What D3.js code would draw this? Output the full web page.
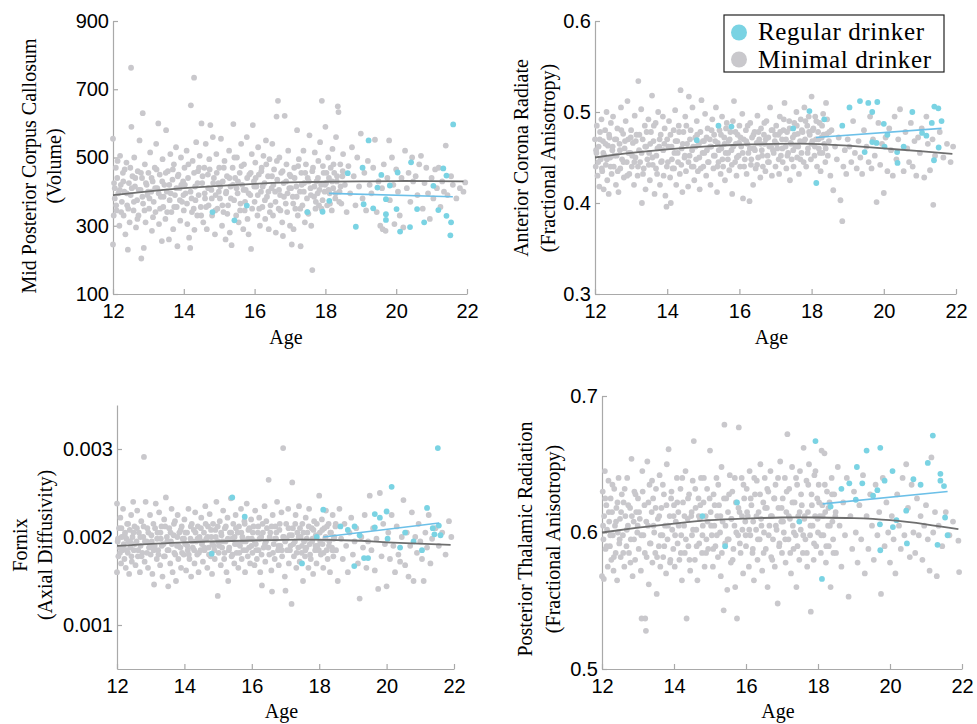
<!DOCTYPE html>
<html>
<head>
<meta charset="utf-8">
<script src="https://cdn.jsdelivr.net/npm/d3@7"></script>
<style>
  body { margin: 0; background: #fff; }
  svg { display: block; }
  .tick text { font-family: "Liberation Sans", Arial, Helvetica, sans-serif; font-size: 20px; fill: #000; }
  .lab { font-family: "Liberation Serif", "Times New Roman", serif; fill: #000; }
</style>
</head>
<body>
<svg id="chart" width="977" height="724"></svg>
<script>
// ---- data ----
var xTicks = [12, 14, 16, 18, 20, 22];

// Mid posterior corpus callosum (volume)
var ccTicks = [100, 300, 500, 700, 900];
var ccMinimal = [[12.0,555],[12.0,245],[12.02,330],[12.05,410],[12.05,380],[12.08,470],[12.1,345],[12.12,440],[12.15,395],[12.18,300],[12.2,505],[12.22,420],[12.25,370],[12.28,455],[12.3,330],[12.32,400],[12.35,275],[12.38,485],[12.4,360],[12.42,230],[12.45,425],[12.47,310],[12.5,390],[12.51,763],[12.52,590],[12.55,445],[12.58,345],[12.6,500],[12.62,415],[12.65,295],
[12.68,375],[12.7,460],[12.72,330],[12.75,550],[12.78,405],[12.8,204],[12.82,440],[12.84,630],[12.85,365],[12.87,235],[12.9,480],[12.92,310],[12.95,420],[12.97,390],
[13.0,455],[13.02,350],[13.05,515],[13.08,400],[13.1,285],[13.12,430],[13.15,370],[13.18,470],[13.2,340],[13.22,540],[13.25,410],[13.28,600],[13.3,305],[13.32,450],[13.35,385],[13.38,255],[13.4,495],[13.42,355],[13.45,420],[13.48,320],
[13.5,580],[13.52,400],[13.55,460],[13.58,260],[13.6,375],[13.62,510],[13.65,340],[13.68,435],[13.7,290],[13.72,480],[13.75,390],[13.78,530],[13.8,355],[13.82,240],[13.85,450],[13.88,410],[13.9,315],[13.92,500],[13.95,370],[13.98,430],
[14.0,345],[14.02,470],[14.05,395],[14.08,520],[14.1,305],[14.12,440],[14.15,265],[14.18,235],[14.2,653],[14.22,380],[14.25,490],[14.28,350],[14.29,734],[14.3,288],[14.32,415],[14.35,545],[14.38,330],[14.4,460],[14.42,390],[14.45,505],[14.48,355],
[14.5,600],[14.52,425],[14.55,310],[14.58,470],[14.6,380],[14.62,540],[14.65,290],[14.68,450],[14.7,360],[14.72,495],[14.75,595],[14.78,405],[14.8,330],[14.82,560],[14.85,440],[14.88,275],[14.9,390],[14.92,510],[14.95,350],[14.98,425],
[15.0,470],[15.02,380],[15.05,555],[15.08,300],[15.1,430],[15.12,340],[15.15,490],[15.18,260],[15.2,400],[15.22,445],[15.25,360],[15.28,520],[15.3,280],[15.32,415],[15.35,243],[15.38,470],[15.4,598],[15.42,375],[15.45,440],[15.48,330],
[15.5,500],[15.52,395],[15.55,310],[15.58,455],[15.6,365],[15.62,540],[15.65,420],[15.68,290],[15.7,480],[15.72,345],[15.75,405],[15.78,560],[15.8,320],[15.83,275],[15.85,450],[15.88,390],[15.9,232],[15.92,510],[15.95,595],[15.98,430],
[16.0,370],[16.02,485],[16.05,415],[16.08,330],[16.1,530],[16.12,450],[16.15,300],[16.18,400],[16.2,470],[16.22,355],[16.25,505],[16.28,425],[16.3,320],[16.32,550],[16.35,385],[16.38,445],[16.4,290],[16.42,495],[16.45,360],[16.48,410],
[16.5,540],[16.52,330],[16.55,465],[16.58,400],[16.6,280],[16.62,620],[16.64,435],[16.66,666],[16.68,350],[16.7,500],[16.72,390],[16.75,455],[16.78,310],[16.8,270],[16.82,425],[16.85,622],[16.88,365],[16.9,480],[16.92,340],[16.95,520],[16.98,410],
[17.0,300],[17.02,445],[17.05,245],[17.08,385],[17.1,290],[17.12,470],[17.15,350],[17.18,415],[17.2,580],[17.22,330],[17.25,495],[17.28,400],[17.3,240],[17.32,455],[17.35,360],[17.38,520],[17.4,425],[17.42,310],[17.45,480],[17.48,380],
[17.5,440],[17.52,335],[17.55,565],[17.58,410],[17.6,300],[17.63,170],[17.65,470],[17.68,385],[17.7,515],[17.72,350],[17.75,430],[17.78,395],[17.8,490],[17.82,360],[17.85,545],[17.88,420],[17.9,666],[17.92,375],[17.95,455],[17.98,400],
[18.0,590],[18.02,425],[18.05,360],[18.08,500],[18.1,440],[18.12,395],[18.15,470],[18.18,345],[18.2,525],[18.22,410],[18.25,455],[18.28,380],[18.3,560],[18.32,430],[18.35,650],[18.37,633],[18.4,400],[18.42,480],[18.45,365],[18.48,445],
[18.5,510],[18.55,420],[18.6,340],[18.65,475],[18.7,395],[18.75,530],[18.8,445],[18.85,360],[18.9,500],[18.95,415],[19.0,570],
[19.05,380],[19.1,455],[19.15,345],[19.2,490],[19.25,420],[19.3,395],[19.35,470],[19.4,552],[19.45,340],[19.5,430],
[19.55,300],[19.6,410],[19.62,290],[19.65,480],[19.7,285],[19.75,440],[19.8,550],[19.82,375],[19.88,500],[19.92,420],[19.95,305],
[20.0,465],[20.05,400],[20.1,330],[20.15,440],[20.2,295],[20.25,520],[20.3,410],[20.35,455],[20.4,370],[20.45,500],[20.48,430],
[20.55,445],[20.6,390],[20.65,480],[20.7,505],[20.75,350],[20.8,425],[20.85,470],[20.9,395],[20.95,320],
[21.0,440],[21.05,380],[21.1,465],[21.15,410],[21.2,470],[21.25,355],[21.3,430],[21.35,400],[21.4,535],[21.45,390],
[21.55,445],[21.6,420],[21.7,380],[21.8,410],[21.9,400],[21.95,427]];
var ccMinimalCore = [[12.03,425],[12.09,360],[12.13,490],[12.19,405],[12.23,340],[12.29,430],[12.33,465],[12.39,395],[12.43,350],[12.49,470],[12.53,410],[12.59,370],[12.63,440],[12.69,320],[12.73,405],[12.79,455],[12.83,385],[12.89,345],[12.93,425],[12.99,400],
[13.03,380],[13.09,440],[13.13,325],[13.19,410],[13.23,465],[13.29,395],[13.33,350],[13.39,430],[13.43,385],[13.49,455],[13.53,340],[13.59,420],[13.63,395],[13.69,465],[13.73,355],[13.79,410],[13.83,445],[13.89,375],[13.93,420],[13.99,390],
[14.03,420],[14.09,365],[14.13,480],[14.19,400],[14.23,340],[14.29,455],[14.33,375],[14.39,425],[14.43,470],[14.49,330],[14.53,445],[14.59,395],[14.63,355],[14.69,410],[14.73,465],[14.79,380],[14.83,425],[14.89,345],[14.93,455],[14.99,400],
[15.03,415],[15.09,360],[15.13,470],[15.19,395],[15.23,335],[15.29,440],[15.33,380],[15.39,420],[15.43,500],[15.49,410],[15.53,430],[15.59,345],[15.63,475],[15.69,405],[15.73,370],[15.79,440],[15.83,395],[15.89,455],[15.93,350],[15.99,415],
[16.03,440],[16.09,390],[16.13,350],[16.19,460],[16.23,415],[16.29,375],[16.33,480],[16.39,400],[16.43,340],[16.49,445],[16.53,420],[16.59,370],[16.63,490],[16.69,405],[16.73,345],[16.79,460],[16.83,385],[16.89,430],[16.93,395],[16.99,450],
[17.03,410],[17.09,365],[17.13,440],[17.19,385],[17.23,475],[17.29,350],[17.33,420],[17.39,400],[17.43,455],[17.49,340],[17.53,430],[17.59,390],[17.63,460],[17.69,415],[17.73,370],[17.79,440],[17.83,405],[17.89,350],[17.93,475],[17.99,420],
[18.03,455],[18.09,405],[18.13,365],[18.19,430],[18.23,480],[18.29,395],[18.33,445],[18.39,370],[18.43,415],[18.49,460]];
var ccRegular = [[14.81,340],[15.43,316],[15.78,359],[17.49,340],[17.92,341],[18.11,373],[18.63,454],[18.86,297],[19.05,470],[19.08,363],[19.22,550],[19.35,351],[19.47,412],[19.58,449],[19.71,317],[19.71,334],[19.71,378],[19.82,418],[20.01,349],[20.04,456],[20.11,283],[20.39,296],[20.42,486],[20.59,349],[20.79,310],[21.05,417],[21.19,346],[21.33,468],[21.42,447],[21.42,329],[21.53,272],[21.55,310],[21.61,597]];
var ccFitMinimal = [[12,390],[13,401],[14,410],[15,417],[16,423],[17,427],[18,429],[19,430],[20,431],[21,431],[21.9,430]];
var ccFitRegular = [[18.1,395],[21.6,385]];

// Anterior corona radiate (FA)
var acrTicks = [0.3, 0.4, 0.5, 0.6];
var acrMinimal = [[12.0,0.470],[12.02,0.440],[12.04,0.455],[12.05,0.485],[12.07,0.430],[12.1,0.462],[12.12,0.418],[12.14,0.478],[12.16,0.448],[12.18,0.492],[12.2,0.435],[12.22,0.468],[12.24,0.415],[12.26,0.452],[12.28,0.480],[12.3,0.442],[12.32,0.500],[12.34,0.425],[12.36,0.463],[12.38,0.410],[12.4,0.472],[12.42,0.450],[12.44,0.488],[12.46,0.432],[12.48,0.458],
[12.5,0.495],[12.52,0.440],[12.55,0.470],[12.58,0.420],[12.6,0.452],[12.62,0.482],[12.65,0.412],[12.68,0.465],[12.7,0.438],[12.72,0.505],[12.75,0.448],[12.78,0.476],[12.8,0.428],[12.82,0.460],[12.85,0.490],[12.88,0.445],[12.9,0.512],[12.92,0.470],[12.95,0.432],[12.98,0.455],
[13.0,0.480],[13.02,0.440],[13.05,0.466],[13.08,0.420],[13.1,0.496],[13.12,0.450],[13.15,0.475],[13.18,0.430],[13.2,0.534],[13.22,0.458],[13.25,0.445],[13.28,0.503],[13.3,0.400],[13.32,0.470],[13.35,0.438],[13.38,0.485],[13.4,0.415],[13.42,0.462],[13.45,0.448],[13.48,0.492],
[13.5,0.455],[13.52,0.425],[13.55,0.478],[13.58,0.518],[13.6,0.442],[13.62,0.468],[13.65,0.410],[13.68,0.488],[13.7,0.452],[13.72,0.432],[13.75,0.500],[13.78,0.462],[13.8,0.420],[13.82,0.475],[13.85,0.446],[13.88,0.495],[13.9,0.430],[13.92,0.465],[13.95,0.408],[13.98,0.396],
[14.0,0.470],[14.02,0.445],[14.05,0.490],[14.08,0.428],[14.1,0.400],[14.12,0.462],[14.15,0.438],[14.18,0.480],[14.2,0.455],[14.22,0.502],[14.25,0.420],[14.28,0.468],[14.3,0.445],[14.32,0.485],[14.35,0.432],[14.37,0.524],[14.4,0.460],[14.42,0.412],[14.45,0.478],[14.48,0.450],
[14.5,0.495],[14.52,0.435],[14.55,0.465],[14.58,0.418],[14.6,0.517],[14.62,0.452],[14.65,0.480],[14.68,0.440],[14.7,0.505],[14.72,0.462],[14.75,0.425],[14.78,0.472],[14.8,0.448],[14.82,0.490],[14.85,0.435],[14.88,0.465],[14.9,0.415],[14.92,0.478],[14.95,0.513],[14.98,0.455],
[15.0,0.440],[15.02,0.468],[15.05,0.498],[15.08,0.430],[15.1,0.458],[15.12,0.482],[15.15,0.445],[15.18,0.470],[15.2,0.420],[15.22,0.462],[15.25,0.492],[15.28,0.438],[15.3,0.475],[15.32,0.452],[15.35,0.505],[15.38,0.412],[15.4,0.466],[15.42,0.445],[15.45,0.480],[15.48,0.432],
[15.5,0.460],[15.52,0.495],[15.55,0.440],[15.58,0.472],[15.6,0.425],[15.62,0.455],[15.65,0.488],[15.68,0.448],[15.7,0.468],[15.72,0.436],[15.75,0.478],[15.78,0.458],[15.8,0.410],[15.82,0.490],[15.85,0.512],[15.88,0.445],[15.9,0.465],[15.92,0.430],[15.95,0.475],[15.98,0.452],
[16.0,0.485],[16.02,0.440],[16.05,0.462],[16.08,0.498],[16.1,0.405],[16.12,0.470],[16.15,0.448],[16.18,0.480],[16.2,0.432],[16.22,0.465],[16.25,0.455],[16.28,0.402],[16.3,0.488],[16.32,0.442],[16.35,0.472],[16.38,0.420],[16.4,0.460],[16.42,0.478],[16.45,0.438],[16.48,0.466],
[16.5,0.496],[16.52,0.450],[16.55,0.470],[16.58,0.428],[16.6,0.482],[16.62,0.458],[16.65,0.440],[16.68,0.475],[16.7,0.465],[16.72,0.435],[16.75,0.490],[16.78,0.452],[16.8,0.472],[16.82,0.445],[16.85,0.505],[16.88,0.462],[16.9,0.430],[16.92,0.480],[16.95,0.455],[16.98,0.468],
[17.0,0.440],[17.02,0.485],[17.05,0.460],[17.08,0.475],[17.1,0.432],[17.12,0.495],[17.15,0.452],[17.18,0.470],[17.2,0.445],[17.22,0.480],[17.25,0.510],[17.28,0.462],[17.3,0.438],[17.32,0.478],[17.35,0.455],[17.38,0.490],[17.4,0.425],[17.42,0.466],[17.45,0.448],[17.48,0.472],
[17.5,0.440],[17.52,0.488],[17.55,0.462],[17.58,0.500],[17.6,0.450],[17.62,0.476],[17.65,0.432],[17.68,0.468],[17.7,0.492],[17.72,0.455],[17.75,0.478],[17.78,0.445],[17.8,0.505],[17.82,0.470],[17.85,0.440],[17.88,0.485],[17.9,0.460],[17.92,0.495],[17.95,0.475],[17.98,0.448],
[18.0,0.517],[18.02,0.468],[18.05,0.482],[18.08,0.452],[18.1,0.495],[18.12,0.470],[18.15,0.440],[18.18,0.478],[18.2,0.460],[18.22,0.488],[18.25,0.435],[18.28,0.472],[18.3,0.455],[18.32,0.498],[18.35,0.465],[18.38,0.445],[18.4,0.510],[18.42,0.476],[18.45,0.452],[18.48,0.468],
[18.52,0.430],[18.55,0.480],[18.6,0.414],[18.65,0.462],[18.7,0.448],[18.75,0.472],[18.8,0.403],[18.85,0.380],[18.88,0.440],[18.92,0.458],[18.96,0.432],
[19.0,0.470],[19.05,0.462],[19.1,0.445],[19.15,0.490],[19.2,0.455],[19.25,0.438],[19.3,0.468],[19.35,0.450],[19.4,0.432],[19.45,0.480],
[19.52,0.462],[19.58,0.445],[19.62,0.495],[19.66,0.438],[19.7,0.470],[19.75,0.452],[19.8,0.401],[19.85,0.488],[19.9,0.442],[19.95,0.465],
[20.0,0.411],[20.05,0.472],[20.1,0.435],[20.15,0.482],[20.2,0.458],[20.25,0.430],[20.3,0.495],[20.35,0.448],[20.4,0.470],[20.45,0.503],
[20.55,0.435],[20.6,0.478],[20.65,0.460],[20.7,0.445],[20.75,0.488],[20.8,0.440],[20.85,0.468],[20.9,0.430],[20.95,0.472],
[21.0,0.455],[21.05,0.482],[21.12,0.428],[21.18,0.495],[21.22,0.465],[21.28,0.436],[21.35,0.470],[21.37,0.398],[21.42,0.452],
[21.55,0.478],[21.65,0.450],[21.75,0.465],[21.85,0.445],[21.92,0.462]];
var acrMinimalCore = [[12.03,0.458],[12.09,0.445],[12.13,0.470],[12.19,0.438],[12.23,0.455],[12.29,0.465],[12.33,0.448],[12.39,0.475],[12.43,0.440],[12.49,0.462],[12.53,0.452],[12.59,0.470],[12.63,0.435],[12.69,0.458],[12.73,0.480],[12.79,0.445],[12.83,0.468],[12.89,0.430],[12.93,0.455],[12.99,0.472],
[13.03,0.452],[13.09,0.445],[13.13,0.468],[13.19,0.440],[13.23,0.475],[13.29,0.455],[13.33,0.432],[13.39,0.462],[13.43,0.478],[13.49,0.442],[13.53,0.465],[13.59,0.450],[13.63,0.485],[13.69,0.438],[13.73,0.460],[13.79,0.470],[13.83,0.445],[13.89,0.458],[13.93,0.482],[13.99,0.440],
[14.03,0.462],[14.09,0.475],[14.13,0.448],[14.19,0.438],[14.23,0.468],[14.29,0.455],[14.33,0.478],[14.39,0.442],[14.43,0.465],[14.49,0.452],[14.53,0.485],[14.59,0.445],[14.63,0.470],[14.69,0.458],[14.73,0.440],[14.79,0.462],[14.83,0.475],[14.89,0.450],[14.93,0.438],[14.99,0.468],
[15.03,0.455],[15.09,0.472],[15.13,0.445],[15.19,0.462],[15.23,0.480],[15.29,0.452],[15.33,0.468],[15.39,0.440],[15.43,0.458],[15.49,0.475],[15.53,0.448],[15.59,0.465],[15.63,0.482],[15.69,0.455],[15.73,0.470],[15.79,0.442],[15.83,0.462],[15.89,0.478],[15.93,0.450],[15.99,0.466],
[16.03,0.472],[16.09,0.455],[16.13,0.440],[16.19,0.468],[16.23,0.485],[16.29,0.460],[16.33,0.448],[16.39,0.475],[16.43,0.458],[16.49,0.442],[16.53,0.478],[16.59,0.465],[16.63,0.452],[16.69,0.488],[16.73,0.470],[16.79,0.445],[16.83,0.462],[16.89,0.480],[16.93,0.458],[16.99,0.475],
[17.03,0.465],[17.09,0.448],[17.13,0.478],[17.19,0.460],[17.23,0.492],[17.29,0.470],[17.33,0.452],[17.39,0.482],[17.43,0.465],[17.49,0.458],[17.53,0.475],[17.59,0.485],[17.63,0.462],[17.69,0.448],[17.73,0.480],[17.79,0.468],[17.83,0.490],[17.89,0.455],[17.93,0.478],[17.99,0.465],
[18.03,0.480],[18.09,0.462],[18.13,0.490],[18.19,0.470],[18.23,0.455],[18.29,0.485],[18.33,0.475],[18.39,0.460],[18.43,0.492],[18.49,0.478]];
var acrRegular = [[14.82,0.469],[15.42,0.485],[15.78,0.484],[17.49,0.482],[17.94,0.501],[18.13,0.422],[18.35,0.492],[18.85,0.485],[19.05,0.505],[19.34,0.512],[19.47,0.456],[19.57,0.510],[19.68,0.500],[19.68,0.467],[19.8,0.466],[19.82,0.511],[20.0,0.487],[20.02,0.462],[20.1,0.475],[20.37,0.456],[20.38,0.444],[20.55,0.462],[20.79,0.500],[21.06,0.477],[21.18,0.474],[21.33,0.488],[21.39,0.447],[21.4,0.506],[21.51,0.504],[21.52,0.461],[21.6,0.490]];
var acrFitMinimal = [[12,0.450],[13,0.455],[14,0.459],[15,0.462],[16,0.464],[17,0.465],[18,0.465],[19,0.463],[20,0.460],[21,0.457],[21.9,0.454]];
var acrFitRegular = [[18.12,0.472],[21.6,0.482]];

// Fornix (axial diffusivity)
var fxTicks = [0.001, 0.002, 0.003];
var fxMinimal = [[12.0,0.00238],[12.0,0.00160],[12.02,0.00195],[12.04,0.00178],[12.06,0.00210],[12.08,0.00188],[12.1,0.00222],[12.12,0.00170],[12.14,0.00200],[12.16,0.00185],[12.18,0.00232],[12.2,0.00192],[12.22,0.00175],[12.24,0.00205],[12.26,0.00165],[12.28,0.00198],[12.3,0.00215],[12.32,0.00182],[12.34,0.00195],[12.36,0.00158],[12.38,0.00208],[12.4,0.00188],[12.42,0.00225],[12.44,0.00172],[12.46,0.00200],[12.48,0.00240],
[12.5,0.00185],[12.52,0.00212],[12.55,0.00168],[12.58,0.00195],[12.6,0.00230],[12.62,0.00178],[12.65,0.00205],[12.68,0.00160],[12.7,0.00190],[12.72,0.00218],[12.75,0.00182],[12.78,0.00200],[12.8,0.00291],[12.82,0.00172],[12.85,0.00240],[12.88,0.00195],[12.9,0.00210],[12.92,0.00165],[12.95,0.00188],[12.98,0.00225],
[13.0,0.00180],[13.02,0.00202],[13.05,0.00158],[13.08,0.00215],[13.1,0.00146],[13.12,0.00190],[13.15,0.00238],[13.18,0.00175],[13.2,0.00205],[13.22,0.00185],[13.25,0.00228],[13.28,0.00168],[13.3,0.00198],[13.32,0.00212],[13.35,0.00155],[13.38,0.00192],[13.4,0.00220],[13.42,0.00178],[13.45,0.00245],[13.48,0.00200],
[13.5,0.00185],[13.52,0.00144],[13.55,0.00210],[13.58,0.00170],[13.6,0.00195],[13.62,0.00232],[13.65,0.00160],[13.68,0.00202],[13.7,0.00182],[13.72,0.00218],[13.75,0.00150],[13.78,0.00190],[13.8,0.00225],[13.82,0.00175],[13.85,0.00205],[13.88,0.00188],[13.9,0.00165],[13.92,0.00212],[13.95,0.00198],[13.98,0.00180],
[14.0,0.00220],[14.02,0.00192],[14.05,0.00162],[14.08,0.00205],[14.1,0.00185],[14.12,0.00232],[14.15,0.00175],[14.18,0.00198],[14.2,0.00155],[14.22,0.00215],[14.25,0.00188],[14.28,0.00208],[14.3,0.00170],[14.32,0.00228],[14.35,0.00195],[14.38,0.00180],[14.4,0.00212],[14.42,0.00160],[14.45,0.00200],[14.48,0.00185],
[14.5,0.00222],[14.52,0.00192],[14.55,0.00172],[14.58,0.00205],[14.6,0.00185],[14.62,0.00235],[14.65,0.00198],[14.68,0.00165],[14.7,0.00212],[14.72,0.00188],[14.75,0.00226],[14.78,0.00178],[14.8,0.00200],[14.82,0.00158],[14.85,0.00215],[14.88,0.00190],[14.9,0.00175],[14.92,0.00208],[14.95,0.00240],[14.99,0.00133],
[15.0,0.00195],[15.02,0.00182],[15.05,0.00218],[15.08,0.00168],[15.1,0.00202],[15.12,0.00188],[15.15,0.00230],[15.18,0.00175],[15.2,0.00210],[15.22,0.00195],[15.25,0.00160],[15.28,0.00222],[15.3,0.00150],[15.32,0.00185],[15.35,0.00205],[15.38,0.00244],[15.4,0.00178],[15.42,0.00198],[15.45,0.00215],[15.48,0.00170],
[15.5,0.00192],[15.52,0.00225],[15.55,0.00182],[15.58,0.00205],[15.6,0.00165],[15.62,0.00212],[15.65,0.00190],[15.68,0.00232],[15.7,0.00175],[15.72,0.00200],[15.75,0.00185],[15.78,0.00218],[15.8,0.00160],[15.82,0.00195],[15.85,0.00238],[15.88,0.00178],[15.9,0.00208],[15.92,0.00188],[15.95,0.00170],[15.98,0.00220],
[16.0,0.00198],[16.02,0.00182],[16.05,0.00212],[16.08,0.00168],[16.1,0.00230],[16.12,0.00192],[16.15,0.00175],[16.18,0.00205],[16.2,0.00185],[16.22,0.00222],[16.25,0.00160],[16.28,0.00200],[16.3,0.00145],[16.32,0.00215],[16.35,0.00188],[16.38,0.00235],[16.4,0.00172],[16.42,0.00195],[16.45,0.00210],[16.5,0.00265],
[16.52,0.00180],[16.55,0.00205],[16.58,0.00162],[16.6,0.00138],[16.62,0.00225],[16.65,0.00192],[16.68,0.00175],[16.7,0.00212],[16.72,0.00198],[16.75,0.00240],[16.78,0.00185],[16.8,0.00168],[16.82,0.00208],[16.85,0.00190],[16.88,0.00228],[16.9,0.00178],[16.93,0.00301],[16.95,0.00200],[16.98,0.00155],[17.0,0.00139],
[17.02,0.00215],[17.05,0.00185],[17.08,0.00232],[17.1,0.00170],[17.12,0.00202],[17.15,0.00190],[17.18,0.00124],[17.2,0.00262],[17.22,0.00210],[17.25,0.00178],[17.28,0.00195],[17.3,0.00225],[17.32,0.00165],[17.35,0.00205],[17.38,0.00188],[17.4,0.00235],[17.42,0.00172],[17.45,0.00200],[17.48,0.00182],
[17.5,0.00215],[17.52,0.00150],[17.55,0.00195],[17.58,0.00178],[17.6,0.00222],[17.62,0.00188],[17.65,0.00205],[17.68,0.00165],[17.7,0.00232],[17.72,0.00192],[17.75,0.00175],[17.78,0.00210],[17.8,0.00198],[17.82,0.00158],[17.85,0.00218],[17.88,0.00185],[17.9,0.00202],[17.92,0.00170],[17.95,0.00190],[18.0,0.00247],
[18.02,0.00205],[18.05,0.00180],[18.08,0.00220],[18.1,0.00192],[18.12,0.00165],[18.15,0.00210],[18.18,0.00198],[18.2,0.00230],[18.22,0.00185],[18.25,0.00175],[18.28,0.00215],[18.3,0.00195],[18.32,0.00160],[18.35,0.00205],[18.38,0.00188],[18.4,0.00225],[18.42,0.00178],[18.45,0.00200],[18.48,0.00212],
[18.5,0.00185],[18.55,0.00150],[18.6,0.00232],[18.65,0.00198],[18.7,0.00175],[18.75,0.00215],[18.8,0.00190],[18.85,0.00160],[18.9,0.00205],[18.95,0.00222],
[19.0,0.00180],[19.05,0.00195],[19.1,0.00210],[19.15,0.00170],[19.2,0.00130],[19.25,0.00200],[19.3,0.00188],[19.35,0.00225],[19.4,0.00165],[19.45,0.00195],
[19.5,0.00247],[19.55,0.00185],[19.6,0.00210],[19.65,0.00162],[19.7,0.00198],[19.75,0.00141],[19.8,0.00250],[19.85,0.00178],[19.9,0.00215],[19.95,0.00192],
[20.0,0.00144],[20.05,0.00205],[20.1,0.00175],[20.15,0.00225],[20.2,0.00190],[20.25,0.00160],[20.3,0.00212],[20.35,0.00180],[20.4,0.00172],[20.45,0.00200],
[20.5,0.00242],[20.55,0.00168],[20.6,0.00205],[20.65,0.00155],[20.7,0.00190],[20.75,0.00228],[20.8,0.00150],[20.85,0.00200],[20.9,0.00182],[20.95,0.00215],
[21.0,0.00195],[21.05,0.00175],[21.1,0.00150],[21.15,0.00205],[21.2,0.00188],[21.25,0.00225],[21.3,0.00170],[21.35,0.00198],[21.45,0.00210],
[21.55,0.00190],[21.65,0.00205],[21.75,0.00180],[21.85,0.00218],[21.92,0.00200]];
var fxMinimalCore = [[12.03,0.00198],[12.09,0.00182],[12.13,0.00210],[12.19,0.00190],[12.23,0.00202],[12.29,0.00185],[12.33,0.00215],[12.39,0.00195],[12.43,0.00178],[12.49,0.00205],[12.53,0.00192],[12.59,0.00210],[12.63,0.00185],[12.69,0.00200],[12.73,0.00178],[12.79,0.00212],[12.83,0.00195],[12.89,0.00182],[12.93,0.00205],[12.99,0.00190],
[13.03,0.00195],[13.09,0.00185],[13.13,0.00210],[13.19,0.00198],[13.23,0.00180],[13.29,0.00205],[13.33,0.00190],[13.39,0.00178],[13.43,0.00212],[13.49,0.00195],[13.53,0.00185],[13.59,0.00205],[13.63,0.00192],[13.69,0.00215],[13.73,0.00180],[13.79,0.00200],[13.83,0.00190],[13.89,0.00208],[13.93,0.00182],[13.99,0.00198],
[14.03,0.00205],[14.09,0.00190],[14.13,0.00180],[14.19,0.00212],[14.23,0.00195],[14.29,0.00185],[14.33,0.00205],[14.39,0.00198],[14.43,0.00182],[14.49,0.00210],[14.53,0.00195],[14.59,0.00188],[14.63,0.00215],[14.69,0.00200],[14.73,0.00180],[14.79,0.00208],[14.83,0.00192],[14.89,0.00185],[14.93,0.00200],[14.99,0.00212],
[15.03,0.00190],[15.09,0.00205],[15.13,0.00195],[15.19,0.00182],[15.23,0.00212],[15.29,0.00198],[15.33,0.00188],[15.39,0.00205],[15.43,0.00180],[15.49,0.00200],[15.53,0.00210],[15.59,0.00192],[15.63,0.00182],[15.69,0.00205],[15.73,0.00195],[15.79,0.00215],[15.83,0.00185],[15.89,0.00198],[15.93,0.00210],[15.99,0.00190],
[16.03,0.00205],[16.09,0.00195],[16.13,0.00185],[16.19,0.00212],[16.23,0.00198],[16.29,0.00180],[16.33,0.00205],[16.39,0.00192],[16.43,0.00218],[16.49,0.00188],[16.53,0.00200],[16.59,0.00212],[16.63,0.00182],[16.69,0.00198],[16.73,0.00205],[16.79,0.00190],[16.83,0.00215],[16.89,0.00185],[16.93,0.00200],[16.99,0.00195],
[17.03,0.00198],[17.09,0.00210],[17.13,0.00185],[17.19,0.00202],[17.23,0.00192],[17.29,0.00215],[17.33,0.00182],[17.39,0.00200],[17.43,0.00210],[17.49,0.00190],[17.53,0.00205],[17.59,0.00185],[17.63,0.00198],[17.69,0.00212],[17.73,0.00180],[17.79,0.00195],[17.83,0.00208],[17.89,0.00190],[17.93,0.00215],[17.99,0.00185],
[18.03,0.00195],[18.09,0.00208],[18.13,0.00182],[18.19,0.00200],[18.23,0.00212],[18.29,0.00190],[18.33,0.00205],[18.39,0.00185],[18.43,0.00198],[18.49,0.00215]];
var fxRegular = [[14.81,0.00181],[15.42,0.00245],[15.79,0.00223],[17.49,0.00170],[17.93,0.00200],[18.12,0.00231],[18.63,0.00212],[18.85,0.00208],[19.04,0.00167],[19.05,0.00212],[19.2,0.00202],[19.33,0.00176],[19.45,0.00176],[19.65,0.00226],[19.65,0.00211],[19.8,0.00222],[20.0,0.00229],[20.03,0.00198],[20.15,0.00257],[20.4,0.00188],[20.55,0.00205],[20.8,0.00195],[21.05,0.00185],[21.2,0.00233],[21.37,0.00210],[21.42,0.00203],[21.52,0.00301],[21.55,0.00213],[21.6,0.00202]];
var fxFitMinimal = [[12,0.00190],[14,0.00194],[16,0.00196],[17.5,0.00197],[19,0.00196],[20,0.00194],[21.9,0.00191]];
var fxFitRegular = [[18.12,0.00200],[21.56,0.00216]];

// Posterior thalamic radiation (FA)
var ptrTicks = [0.5, 0.6, 0.7];
var ptrMinimal = [[12.0,0.568],[12.02,0.630],[12.04,0.595],[12.05,0.566],[12.06,0.612],[12.08,0.645],[12.1,0.588],[12.12,0.620],[12.14,0.602],[12.16,0.575],[12.18,0.638],[12.2,0.608],[12.22,0.590],[12.24,0.625],[12.26,0.580],[12.28,0.615],[12.3,0.598],[12.32,0.572],[12.34,0.632],[12.36,0.605],[12.38,0.585],[12.4,0.618],[12.42,0.565],[12.44,0.600],[12.46,0.640],[12.48,0.592],
[12.5,0.610],[12.52,0.582],[12.55,0.628],[12.58,0.598],[12.6,0.622],[12.62,0.575],[12.65,0.612],[12.68,0.590],[12.7,0.640],[12.72,0.605],[12.75,0.585],[12.78,0.618],[12.8,0.595],[12.82,0.654],[12.85,0.568],[12.88,0.608],[12.9,0.630],[12.92,0.580],[12.95,0.615],[12.98,0.600],
[13.0,0.625],[13.02,0.588],[13.05,0.610],[13.08,0.572],[13.1,0.537],[13.12,0.645],[13.15,0.598],[13.18,0.620],[13.2,0.537],[13.22,0.528],[13.24,0.582],[13.26,0.652],[13.28,0.605],[13.3,0.562],[13.32,0.635],[13.35,0.592],[13.38,0.615],[13.4,0.578],[13.42,0.625],[13.45,0.600],[13.48,0.585],
[13.5,0.632],[13.52,0.555],[13.55,0.610],[13.58,0.590],[13.6,0.642],[13.62,0.575],[13.65,0.618],[13.68,0.598],[13.7,0.582],[13.72,0.628],[13.75,0.605],[13.78,0.570],[13.8,0.650],[13.82,0.595],[13.85,0.661],[13.88,0.612],[13.9,0.580],[13.92,0.625],[13.95,0.602],[13.98,0.588],
[14.0,0.620],[14.02,0.575],[14.05,0.608],[14.08,0.640],[14.1,0.592],[14.12,0.615],[14.15,0.580],[14.18,0.632],[14.2,0.598],[14.22,0.565],[14.25,0.622],[14.28,0.605],[14.3,0.585],[14.32,0.645],[14.35,0.537],[14.38,0.610],[14.4,0.590],[14.42,0.628],[14.45,0.572],[14.48,0.612],
[14.5,0.598],[14.52,0.638],[14.55,0.667],[14.58,0.580],[14.6,0.618],[14.62,0.602],[14.65,0.565],[14.68,0.625],[14.7,0.592],[14.72,0.610],[14.75,0.640],[14.78,0.585],[14.8,0.605],[14.82,0.622],[14.85,0.575],[14.88,0.612],[14.9,0.595],[14.92,0.632],[14.95,0.588],[15.0,0.660],
[15.02,0.615],[15.05,0.598],[15.08,0.575],[15.1,0.628],[15.12,0.605],[15.15,0.590],[15.18,0.640],[15.2,0.612],[15.22,0.582],[15.25,0.620],[15.28,0.600],[15.3,0.568],[15.32,0.648],[15.35,0.608],[15.38,0.543],[15.4,0.679],[15.42,0.592],[15.45,0.625],[15.48,0.558],
[15.5,0.615],[15.52,0.595],[15.55,0.642],[15.58,0.578],[15.6,0.610],[15.62,0.630],[15.65,0.588],[15.68,0.605],[15.7,0.560],[15.72,0.622],[15.75,0.537],[15.78,0.598],[15.8,0.677],[15.82,0.615],[15.85,0.585],[15.88,0.640],[15.9,0.602],[15.92,0.570],[15.95,0.625],[15.98,0.608],
[16.0,0.590],[16.02,0.632],[16.05,0.612],[16.08,0.575],[16.1,0.645],[16.12,0.598],[16.15,0.620],[16.18,0.585],[16.2,0.608],[16.22,0.565],[16.25,0.628],[16.28,0.602],[16.3,0.638],[16.32,0.580],[16.35,0.615],[16.38,0.595],[16.4,0.650],[16.42,0.610],[16.45,0.572],[16.48,0.622],
[16.5,0.600],[16.52,0.640],[16.55,0.588],[16.58,0.618],[16.6,0.560],[16.62,0.630],[16.65,0.605],[16.68,0.645],[16.7,0.582],[16.72,0.612],[16.75,0.595],[16.78,0.625],[16.8,0.575],[16.82,0.635],[16.85,0.602],[16.88,0.548],[16.9,0.618],[16.92,0.590],[16.95,0.652],[16.98,0.608],
[17.0,0.585],[17.02,0.625],[17.05,0.600],[17.08,0.640],[17.1,0.578],[17.12,0.615],[17.15,0.672],[17.18,0.595],[17.2,0.632],[17.22,0.610],[17.25,0.570],[17.28,0.648],[17.3,0.605],[17.32,0.588],[17.35,0.622],[17.38,0.598],[17.4,0.560],[17.42,0.635],[17.45,0.612],[17.48,0.580],
[17.5,0.645],[17.52,0.602],[17.55,0.620],[17.58,0.585],[17.6,0.662],[17.62,0.610],[17.65,0.595],[17.68,0.638],[17.7,0.575],[17.72,0.615],[17.75,0.650],[17.78,0.598],[17.8,0.542],[17.82,0.628],[17.85,0.605],[17.88,0.580],[17.9,0.642],[17.92,0.612],[17.95,0.590],[17.98,0.625],
[18.0,0.600],[18.02,0.635],[18.05,0.612],[18.08,0.585],[18.1,0.660],[18.12,0.620],[18.15,0.598],[18.18,0.658],[18.2,0.615],[18.22,0.578],[18.25,0.630],[18.28,0.605],[18.3,0.590],[18.32,0.622],[18.35,0.560],[18.38,0.640],[18.4,0.608],[18.42,0.595],[18.45,0.628],[18.48,0.612],
[18.5,0.585],[18.55,0.648],[18.6,0.605],[18.65,0.575],[18.7,0.622],[18.75,0.598],[18.8,0.640],[18.85,0.553],[18.9,0.612],[18.95,0.588],
[19.0,0.630],[19.05,0.600],[19.1,0.578],[19.15,0.620],[19.2,0.595],[19.25,0.642],[19.3,0.570],[19.35,0.612],[19.4,0.588],[19.45,0.628],
[19.5,0.605],[19.55,0.580],[19.6,0.635],[19.65,0.598],[19.7,0.615],[19.75,0.555],[19.8,0.640],[19.85,0.590],[19.9,0.622],[19.95,0.600],
[20.0,0.578],[20.05,0.612],[20.1,0.595],[20.15,0.570],[20.2,0.628],[20.25,0.605],[20.3,0.588],[20.35,0.640],[20.4,0.598],[20.45,0.650],
[20.5,0.618],[20.55,0.582],[20.6,0.635],[20.65,0.600],[20.7,0.585],[20.75,0.625],[20.8,0.598],[20.85,0.612],[20.9,0.580],[20.95,0.605],
[21.0,0.620],[21.05,0.595],[21.1,0.572],[21.15,0.655],[21.2,0.600],[21.25,0.615],[21.3,0.568],[21.35,0.605],[21.45,0.590],
[21.55,0.615],[21.65,0.598],[21.75,0.608],[21.9,0.594],[21.92,0.571]];
var ptrMinimalCore = [[12.03,0.605],[12.09,0.625],[12.13,0.590],[12.19,0.615],[12.23,0.598],[12.29,0.635],[12.33,0.582],[12.39,0.608],[12.43,0.622],[12.49,0.595],[12.53,0.615],[12.59,0.585],[12.63,0.632],[12.69,0.602],[12.73,0.620],[12.79,0.578],[12.83,0.612],[12.89,0.595],[12.93,0.628],[12.99,0.605],
[13.03,0.615],[13.09,0.598],[13.13,0.630],[13.19,0.585],[13.23,0.608],[13.29,0.622],[13.33,0.592],[13.39,0.638],[13.43,0.605],[13.49,0.618],[13.53,0.582],[13.59,0.612],[13.63,0.598],[13.69,0.635],[13.73,0.590],[13.79,0.620],[13.83,0.605],[13.89,0.578],[13.93,0.630],[13.99,0.612],
[14.03,0.598],[14.09,0.622],[14.13,0.605],[14.19,0.585],[14.23,0.640],[14.29,0.612],[14.33,0.595],[14.39,0.625],[14.43,0.580],[14.49,0.615],[14.53,0.602],[14.59,0.632],[14.63,0.590],[14.69,0.612],[14.73,0.620],[14.79,0.598],[14.83,0.640],[14.89,0.585],[14.93,0.608],[14.99,0.625],
[15.03,0.605],[15.09,0.588],[15.13,0.620],[15.19,0.598],[15.23,0.635],[15.29,0.612],[15.33,0.585],[15.39,0.625],[15.43,0.605],[15.49,0.595],[15.53,0.628],[15.59,0.610],[15.63,0.580],[15.69,0.640],[15.73,0.600],[15.79,0.618],[15.83,0.592],[15.89,0.612],[15.93,0.635],[15.99,0.598],
[16.03,0.615],[16.09,0.602],[16.13,0.625],[16.19,0.588],[16.23,0.640],[16.29,0.612],[16.33,0.595],[16.39,0.628],[16.43,0.605],[16.49,0.585],[16.53,0.618],[16.59,0.632],[16.63,0.598],[16.69,0.612],[16.73,0.580],[16.79,0.625],[16.83,0.605],[16.89,0.640],[16.93,0.592],[16.99,0.618],
[17.03,0.608],[17.09,0.595],[17.13,0.630],[17.19,0.612],[17.23,0.585],[17.29,0.622],[17.33,0.600],[17.39,0.640],[17.43,0.590],[17.49,0.615],[17.53,0.628],[17.59,0.598],[17.63,0.612],[17.69,0.585],[17.73,0.635],[17.79,0.605],[17.83,0.620],[17.89,0.592],[17.93,0.645],[17.99,0.610],
[18.03,0.622],[18.09,0.598],[18.13,0.612],[18.19,0.635],[18.23,0.590],[18.29,0.618],[18.33,0.605],[18.39,0.628],[18.43,0.585],[18.49,0.615]];
var ptrRegular = [[14.79,0.612],[15.42,0.590],[15.75,0.622],[17.48,0.608],[17.93,0.667],[18.11,0.566],[18.35,0.619],[18.65,0.632],[18.87,0.636],[19.05,0.624],[19.08,0.648],[19.23,0.636],[19.35,0.660],[19.53,0.627],[19.65,0.631],[19.73,0.662],[19.72,0.606],[19.73,0.587],[19.85,0.638],[20.07,0.645],[20.08,0.604],[20.18,0.609],[20.45,0.616],[20.47,0.592],[20.65,0.639],[20.85,0.635],[21.05,0.651],[21.19,0.671],[21.32,0.591],[21.4,0.643],[21.4,0.638],[21.5,0.634],[21.53,0.611],[21.6,0.598]];
var ptrFitMinimal = [[12,0.600],[13,0.6035],[14,0.6065],[15,0.609],[16,0.6102],[17,0.611],[18,0.611],[19,0.6105],[20,0.609],[21,0.606],[21.9,0.6025]];
var ptrFitRegular = [[18.13,0.621],[21.6,0.630]];

var legendLabels = ["Regular drinker", "Minimal drinker"];

// ---- drawing ----
var greyPt = "#c9c8cc", bluePt = "#7ad3e3", greyLine = "#6e6e6e", blueLine = "#6cc0e8";
var svg = d3.select("#chart");

var panels = [
    {left:113, right:467, top:21, bottom:294, domain:[100,900], ticks:ccTicks, fmt:d3.format("d"),
     minimal:ccMinimal.concat(ccMinimalCore), regular:ccRegular, fitMin:ccFitMinimal, fitReg:ccFitRegular,
     title:["Mid Posterior Corpus Callosum","(Volume)"], titleX:[29,54], titleY:166, ageY:344},
    {left:595, right:956, top:21, bottom:294, domain:[0.3,0.6], ticks:acrTicks, fmt:d3.format(".1f"),
     minimal:acrMinimal.concat(acrMinimalCore), regular:acrRegular, fitMin:acrFitMinimal, fitReg:acrFitRegular,
     title:["Anterior Corona Radiate","(Fractional Anisotropy)"], titleX:[521,548], titleY:158, ageY:344},
    {left:117, right:454, top:405, bottom:669, domain:[0.0005,0.0035], ticks:fxTicks, fmt:d3.format(".3f"),
     minimal:fxMinimal.concat(fxMinimalCore), regular:fxRegular, fitMin:fxFitMinimal, fitReg:fxFitRegular,
     title:["Fornix","(Axial Diffusivity)"], titleX:[20,45], titleY:545, ageY:718},
    {left:602, right:962, top:396, bottom:669, domain:[0.5,0.7], ticks:ptrTicks, fmt:d3.format(".1f"),
     minimal:ptrMinimal.concat(ptrMinimalCore), regular:ptrRegular, fitMin:ptrFitMinimal, fitReg:ptrFitRegular,
     title:["Posterior Thalamic Radiation","(Fractional Anisotropy)"], titleX:[525,553], titleY:539, ageY:718}
];

panels.forEach(function(p){
    var x = d3.scaleLinear().domain([12,22]).range([p.left, p.right]),
        y = d3.scaleLinear().domain(p.domain).range([p.bottom, p.top]);

    var g = svg.append("g");

    g.append("g")
        .attr("transform", "translate(0,"+p.bottom+")")
        .call(d3.axisBottom(x).tickValues(xTicks).tickFormat(d3.format("d"))
            .tickSizeInner(-5).tickSizeOuter(0).tickPadding(10));

    g.append("g")
        .attr("transform", "translate("+p.left+",0)")
        .call(d3.axisLeft(y).tickValues(p.ticks).tickFormat(p.fmt)
            .tickSizeInner(-5).tickSizeOuter(0).tickPadding(4));

    g.selectAll(".domain, .tick line").attr("stroke", "#a9a9a9").attr("stroke-width", 1.2);

    g.append("g").selectAll("circle")
        .data(p.minimal)
        .join("circle")
        .attr("cx", function(d){ return x(d[0]); })
        .attr("cy", function(d){ return y(d[1]); })
        .attr("r", 2.9)
        .attr("fill", greyPt);

    g.append("g").selectAll("circle")
        .data(p.regular)
        .join("circle")
        .attr("cx", function(d){ return x(d[0]); })
        .attr("cy", function(d){ return y(d[1]); })
        .attr("r", 2.9)
        .attr("fill", bluePt);

    var line = d3.line()
        .x(function(d){ return x(d[0]); })
        .y(function(d){ return y(d[1]); })
        .curve(d3.curveNatural);

    g.append("path").datum(p.fitMin)
        .attr("d", line).attr("fill", "none")
        .attr("stroke", greyLine).attr("stroke-width", 1.8);

    g.append("path").datum(p.fitReg)
        .attr("d", line).attr("fill", "none")
        .attr("stroke", blueLine).attr("stroke-width", 1.6);

    g.append("text").attr("class", "lab")
        .attr("x", (p.left+p.right)/2 - 4).attr("y", p.ageY)
        .attr("text-anchor", "middle").style("font-size", "20px")
        .text("Age");

    p.title.forEach(function(t, i){
        g.append("text").attr("class", "lab")
            .attr("transform", "translate("+(p.titleX[i]+7)+","+p.titleY+") rotate(-90)")
            .attr("text-anchor", "middle").style("font-size", "20px")
            .text(t);
    });
});

// legend
var lg = svg.append("g");
lg.append("rect")
    .attr("x", 724).attr("y", 15).attr("width", 220).attr("height", 57)
    .attr("fill", "#fff").attr("stroke", "#222").attr("stroke-width", 1.2);

lg.selectAll("circle")
    .data([bluePt, greyPt])
    .join("circle")
    .attr("cx", 739)
    .attr("cy", function(d, i){ return 32.5 + i*27; })
    .attr("r", 8)
    .attr("fill", function(d){ return d; });

lg.selectAll("text")
    .data(legendLabels)
    .join("text")
    .attr("class", "lab")
    .attr("x", 758)
    .attr("y", function(d, i){ return 40 + i*28; })
    .style("font-size", "25px")
    .style("letter-spacing", "0.6px")
    .text(function(d){ return d; });
</script>
</body>
</html>
